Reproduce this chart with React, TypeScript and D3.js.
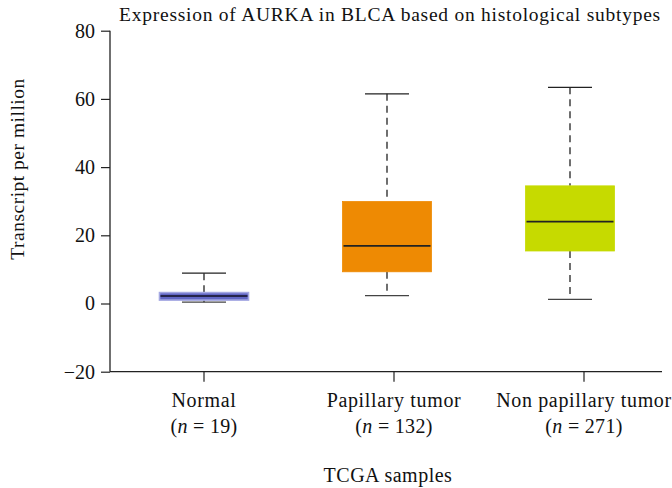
import React, { useEffect, useRef } from 'react';
import * as d3 from 'd3';

const categories = ['Normal', 'Papillary tumor', 'Non papillary tumor'];
const sampleSizes = [19, 132, 271];
const lowerWhisker = [0.4, 2.3, 1.2];
const q1 = [1.0, 9.3, 15.4];
const medians = [2.2, 16.9, 24.0];
const q3 = [3.2, 29.9, 34.5];
const upperWhisker = [8.9, 61.5, 63.4];
const fills = ['#6166c4', '#ee8a03', '#c6da00'];
const yTicks = [-20, 0, 20, 40, 60, 80];

const width = 672;
const height = 488;
const font = '"Liberation Serif", "DejaVu Serif", serif';

const App: React.FC = () => {
  const svgRef = useRef<SVGSVGElement | null>(null);

  useEffect(() => {
    const svg = d3.select(svgRef.current);
    svg.selectAll('*').remove();

    const left = 110;
    const y = d3.scaleLinear().domain([-20, 80]).range([371.7, 30.7]);
    // boxes and axis ticks sit on slightly different spacings in the original
    const x = d3.scalePoint<string>().domain(categories).range([204, 570]);
    const xTick = d3.scalePoint<string>().domain(categories).range([204, 584]);
    const boxW = 89;
    const capW = 44;

    const data = categories.map((c, i) => ({
      c, n: sampleSizes[i], lo: lowerWhisker[i], q1: q1[i], med: medians[i], q3: q3[i], hi: upperWhisker[i], fill: fills[i],
    }));

    // title
    svg.append('text')
      .attr('x', 390).attr('y', 21)
      .attr('text-anchor', 'middle')
      .attr('font-family', font).attr('font-size', 19.5).attr('letter-spacing', 0.75).attr('fill', '#111')
      .text('Expression of AURKA in BLCA based on histological subtypes');

    // y axis
    const yAxis = svg.append('g')
      .attr('transform', `translate(${left},0)`)
      .call(d3.axisLeft(y).tickValues(yTicks).tickSize(9).tickPadding(6).tickFormat((d) => d3.format('')(d as number).replace('-', '\u2212')));
    yAxis.select('.domain').attr('d', `M-0,${y(80)}V${y(-20)}`).attr('stroke', '#222').attr('stroke-width', 1.3);
    yAxis.selectAll('.tick line').attr('stroke', '#222').attr('stroke-width', 1.2);
    yAxis.selectAll('.tick text').attr('font-family', font).attr('font-size', 20).attr('fill', '#111');

    // x axis
    const xg = svg.append('g').attr('transform', `translate(0,${y(-20)})`);
    xg.append('line').attr('x1', left).attr('x2', 662).attr('y1', 0).attr('y2', 0)
      .attr('stroke', '#222').attr('stroke-width', 1.3);
    const xt = xg.selectAll('g.xt').data(data).enter().append('g')
      .attr('transform', (d) => `translate(${xTick(d.c)},0)`);
    xt.append('line').attr('y1', 0).attr('y2', 10).attr('stroke', '#222').attr('stroke-width', 1.2);
    xt.append('text').attr('y', 35.5).attr('text-anchor', 'middle')
      .attr('font-family', font).attr('font-size', 20).attr('letter-spacing', 0.65).attr('fill', '#111')
      .text((d) => d.c);
    const nt = xt.append('text').attr('y', 61).attr('text-anchor', 'middle')
      .attr('font-family', font).attr('font-size', 20).attr('letter-spacing', 0.3).attr('fill', '#111');
    nt.append('tspan').text('(');
    nt.append('tspan').attr('font-style', 'italic').text('n');
    nt.append('tspan').text((d) => ` = ${d.n})`);

    // axis titles
    svg.append('text')
      .attr('transform', `translate(24,169) rotate(-90)`)
      .attr('text-anchor', 'middle')
      .attr('font-family', font).attr('font-size', 19.5).attr('letter-spacing', 0.5).attr('fill', '#111')
      .text('Transcript per million');
    svg.append('text')
      .attr('x', 388).attr('y', 482)
      .attr('text-anchor', 'middle')
      .attr('font-family', font).attr('font-size', 20).attr('letter-spacing', 0.5).attr('fill', '#111')
      .text('TCGA samples');

    // boxes
    const g = svg.append('g').selectAll('g.box').data(data).enter().append('g')
      .attr('transform', (d) => `translate(${x(d.c)},0)`);

    g.append('line').attr('y1', (d) => y(d.hi)).attr('y2', (d) => y(d.q3))
      .attr('stroke', '#222').attr('stroke-width', 1.3).attr('stroke-dasharray', '7,5');
    g.append('line').attr('y1', (d) => y(d.q1)).attr('y2', (d) => y(d.lo))
      .attr('stroke', '#222').attr('stroke-width', 1.3).attr('stroke-dasharray', '7,5');
    g.append('line').attr('x1', -capW / 2).attr('x2', capW / 2)
      .attr('y1', (d) => y(d.hi)).attr('y2', (d) => y(d.hi))
      .attr('stroke', '#222').attr('stroke-width', 1.3);
    g.append('line').attr('x1', -capW / 2).attr('x2', capW / 2)
      .attr('y1', (d) => y(d.lo)).attr('y2', (d) => y(d.lo))
      .attr('stroke', '#444').attr('stroke-width', 1.4);

    g.append('rect')
      .attr('x', -boxW / 2).attr('width', boxW)
      .attr('y', (d) => y(d.q3)).attr('height', (d) => y(d.q1) - y(d.q3))
      .attr('fill', (d) => d.fill)
      .attr('stroke', (d, i) => (i === 0 ? '#a4a8e2' : d.fill))
      .attr('stroke-width', (d, i) => (i === 0 ? 1.6 : 0.8));
    g.append('line').attr('x1', -boxW / 2 + 1).attr('x2', boxW / 2 - 1)
      .attr('y1', (d) => y(d.med)).attr('y2', (d) => y(d.med))
      .attr('stroke', (d, i) => (i === 0 ? '#25254c' : '#222'))
      .attr('stroke-width', (d, i) => (i === 0 ? 2.2 : 1.6));
  }, []);

  return <svg ref={svgRef} width={width} height={height} style={{ position: 'absolute', left: 0, top: 0 }} />;
};

export default App;
